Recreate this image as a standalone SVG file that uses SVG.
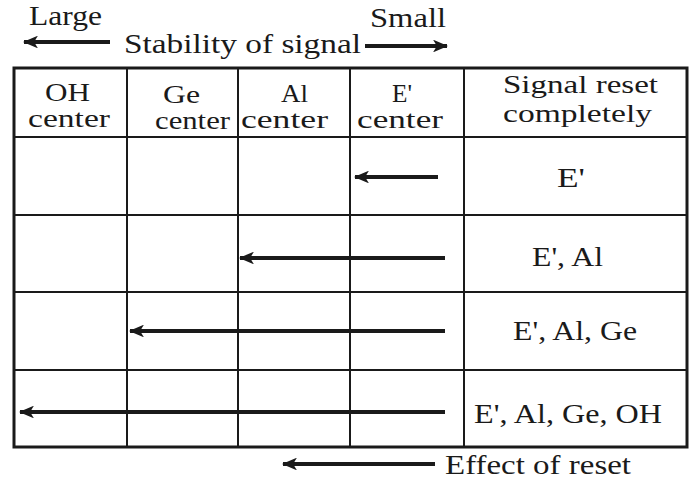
<svg xmlns="http://www.w3.org/2000/svg" width="700" height="489" viewBox="0 0 700 489" font-family="Liberation Serif, Times New Roman, serif">
<style>
text{font-size:28px;fill:#1a1a1a}
.hd{font-size:25px}
.grid{stroke:#1a1a1a;stroke-width:2;fill:none}
.outer{stroke:#1a1a1a;stroke-width:3;fill:none}
.arr{stroke:#1a1a1a;stroke-width:4;fill:none}
.head{fill:#1a1a1a}
</style>
<defs>
<marker id="ah" viewBox="0 0 12 10" refX="11" refY="5" markerWidth="3.8" markerHeight="3.2" orient="auto" markerUnits="strokeWidth">
<path d="M0,0 L12,5 L0,10 L3,5 Z" class="head"/>
</marker>
</defs>
<rect width="700" height="489" fill="#fff"/>
<g id="title">
<text x="29" y="25" textLength="73" lengthAdjust="spacingAndGlyphs">Large</text>
<text x="370" y="27" textLength="76" lengthAdjust="spacingAndGlyphs">Small</text>
<text x="124" y="53" textLength="237" lengthAdjust="spacingAndGlyphs">Stability of signal</text>
</g>
<g id="table">
<rect class="outer" x="14" y="68" width="673" height="379"/>
<path class="grid" d="M127,68V447M238,68V447M350,68V447M464,68V447M14,137H687M14,215H687M14,292H687M14,370H687"/>
</g>
<g id="header">
<g id="h-oh"><text class="hd" x="67.5" y="101" text-anchor="middle" textLength="45" lengthAdjust="spacingAndGlyphs">OH</text><text class="hd" x="69" y="127" text-anchor="middle" textLength="82" lengthAdjust="spacingAndGlyphs">center</text></g>
<g id="h-ge"><text class="hd" x="181.5" y="103" text-anchor="middle" textLength="37" lengthAdjust="spacingAndGlyphs">Ge</text><text class="hd" x="192.5" y="129" text-anchor="middle" textLength="75" lengthAdjust="spacingAndGlyphs">center</text></g>
<g id="h-al"><text class="hd" x="294.5" y="102" text-anchor="middle" textLength="27" lengthAdjust="spacingAndGlyphs">Al</text><text class="hd" x="284.5" y="128" text-anchor="middle" textLength="87" lengthAdjust="spacingAndGlyphs">center</text></g>
<g id="h-e"><text class="hd" x="402" y="102" text-anchor="middle" textLength="20" lengthAdjust="spacingAndGlyphs">E'</text><text class="hd" x="400" y="128" text-anchor="middle" textLength="86" lengthAdjust="spacingAndGlyphs">center</text></g>
<g id="h-reset"><text class="hd" x="503" y="93" textLength="155" lengthAdjust="spacingAndGlyphs">Signal reset</text><text class="hd" x="503" y="122" textLength="149" lengthAdjust="spacingAndGlyphs">completely</text></g>
</g>
<g id="rows">
<g id="r1"><text x="557" y="187" textLength="28" lengthAdjust="spacingAndGlyphs">E'</text></g>
<g id="r2"><text x="532" y="266" textLength="71" lengthAdjust="spacingAndGlyphs">E', Al</text></g>
<g id="r3"><text x="513" y="340" textLength="124" lengthAdjust="spacingAndGlyphs">E', Al, Ge</text></g>
<g id="r4"><text x="474" y="423" textLength="188" lengthAdjust="spacingAndGlyphs">E', Al, Ge, OH</text></g>
<g id="effect"><text x="445" y="474" textLength="186" lengthAdjust="spacingAndGlyphs">Effect of reset</text></g>
</g>
<g id="connectors">
<line class="arr" x1="110" y1="42" x2="24" y2="42" marker-end="url(#ah)"/>
<line class="arr" x1="365" y1="46" x2="447" y2="46" marker-end="url(#ah)"/>
<line class="arr" x1="438" y1="177" x2="355" y2="177" marker-end="url(#ah)"/>
<line class="arr" x1="445" y1="258" x2="240" y2="258" marker-end="url(#ah)"/>
<line class="arr" x1="445" y1="331" x2="130" y2="331" marker-end="url(#ah)"/>
<line class="arr" x1="445" y1="412" x2="20" y2="412" marker-end="url(#ah)"/>
<line class="arr" x1="435" y1="464" x2="283" y2="464" marker-end="url(#ah)"/>
</g>
</svg>
